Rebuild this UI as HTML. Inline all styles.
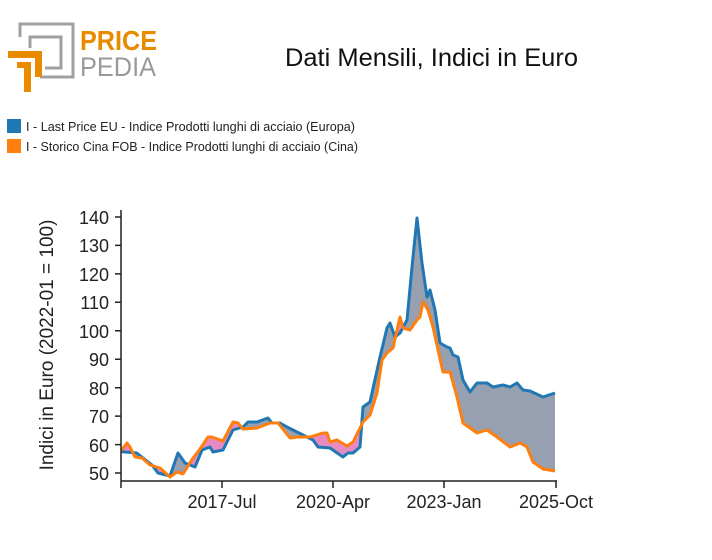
<!DOCTYPE html>
<html><head><meta charset="utf-8"><style>
body{margin:0;background:#fff;width:712px;height:555px;overflow:hidden;font-family:"Liberation Sans",sans-serif}
</style></head><body>
<svg width="712" height="555" viewBox="0 0 712 555" xmlns="http://www.w3.org/2000/svg" font-family="Liberation Sans, sans-serif">
<defs>
<clipPath id="aboveBlue"><polygon points="121.7,451.7 136.7,453 143,458 152,465 158,473 170,476 178,453 185,463 195,467 202,450 210,447 213,452 223,450 233,430 243,427 248,422 257,422 268,418 272,423 280,423 287,427 297,432 303,435 313,440 318,447 330,448 343,457 348,453 353,453 360,447 363,407 370,402 380,357 387,328 390,323 395,337 400,333 407,320 412,267 417,218 422,263 427,297 430,290 435,310 440,343 447,347 450,348 453,355 458,357 463,380 470,392 477,383 487,383 493,387 503,385 510,387 517,383 523,390 530,391 543,397 555,393 555,0 121.7,0"/></clipPath>
<clipPath id="belowBlue"><polygon points="121.7,451.7 136.7,453 143,458 152,465 158,473 170,476 178,453 185,463 195,467 202,450 210,447 213,452 223,450 233,430 243,427 248,422 257,422 268,418 272,423 280,423 287,427 297,432 303,435 313,440 318,447 330,448 343,457 348,453 353,453 360,447 363,407 370,402 380,357 387,328 390,323 395,337 400,333 407,320 412,267 417,218 422,263 427,297 430,290 435,310 440,343 447,347 450,348 453,355 458,357 463,380 470,392 477,383 487,383 493,387 503,385 510,387 517,383 523,390 530,391 543,397 555,393 555,555 121.7,555"/></clipPath>
</defs>
<!-- logo -->
<polyline points="20,37 20,24 73,24 73,77 40,77" fill="none" stroke="#a0a0a0" stroke-width="3"/>
<polyline points="30,48 30,37 61,37 61,68 45,68" fill="none" stroke="#a0a0a0" stroke-width="3"/>
<path d="M8,51 H42 V77 H35 V58 H8 Z" fill="#e88b00"/>
<path d="M17,62 H31 V92 H24 V68 H17 Z" fill="#e88b00"/>
<text x="80" y="50" font-size="28" font-weight="bold" fill="#e88b00" textLength="77" lengthAdjust="spacingAndGlyphs">PRICE</text>
<text x="80" y="76" font-size="27" fill="#9a9a9a" textLength="76" lengthAdjust="spacingAndGlyphs">PEDIA</text>
<text x="285" y="66" font-size="25" fill="#111" textLength="293" lengthAdjust="spacingAndGlyphs">Dati Mensili, Indici in Euro</text>
<!-- legend -->
<rect x="7" y="119" width="14" height="14" fill="#1f77b4"/>
<text x="26" y="131" font-size="12.5" fill="#222" textLength="329" lengthAdjust="spacingAndGlyphs">I - Last Price EU - Indice Prodotti lunghi di acciaio (Europa)</text>
<rect x="7" y="139" width="14" height="14" fill="#ff7f0e"/>
<text x="26" y="151" font-size="12.5" fill="#222" textLength="332" lengthAdjust="spacingAndGlyphs">I - Storico Cina FOB - Indice Prodotti lunghi di acciaio (Cina)</text>
<!-- fills -->
<g id="between">
<polygon clip-path="url(#belowBlue)" fill="#97a0b0" points="121.7,451.7 136.7,453 143,458 152,465 158,473 170,476 178,453 185,463 195,467 202,450 210,447 213,452 223,450 233,430 243,427 248,422 257,422 268,418 272,423 280,423 287,427 297,432 303,435 313,440 318,447 330,448 343,457 348,453 353,453 360,447 363,407 370,402 380,357 387,328 390,323 395,337 400,333 407,320 412,267 417,218 422,263 427,297 430,290 435,310 440,343 447,347 450,348 453,355 458,357 463,380 470,392 477,383 487,383 493,387 503,385 510,387 517,383 523,390 530,391 543,397 555,393 555,471 543,469 533,462 527,447 520,443 510,447 497,437 487,430 477,433 470,428 463,423 457,397 450,372 443,372 438,350 433,327 428,310 423,302 420,317 417,320 410,330 403,328 400,317 393,348 387,353 382,360 377,393 370,415 363,422 353,442 347,446 337,440 330,442 327,433 323,433 310,437 297,437 290,438 278,423 270,423 257,428 243,429 238,423 233,422 223,441 212,437 208,437 200,449 193,458 183,474 177,472 170,477 160,468 150,465 142,458 135,457 130,447 127,443 121.7,450"/>
<polygon clip-path="url(#aboveBlue)" fill="#e78ac3" points="121.7,451.7 136.7,453 143,458 152,465 158,473 170,476 178,453 185,463 195,467 202,450 210,447 213,452 223,450 233,430 243,427 248,422 257,422 268,418 272,423 280,423 287,427 297,432 303,435 313,440 318,447 330,448 343,457 348,453 353,453 360,447 363,407 370,402 380,357 387,328 390,323 395,337 400,333 407,320 412,267 417,218 422,263 427,297 430,290 435,310 440,343 447,347 450,348 453,355 458,357 463,380 470,392 477,383 487,383 493,387 503,385 510,387 517,383 523,390 530,391 543,397 555,393 555,471 543,469 533,462 527,447 520,443 510,447 497,437 487,430 477,433 470,428 463,423 457,397 450,372 443,372 438,350 433,327 428,310 423,302 420,317 417,320 410,330 403,328 400,317 393,348 387,353 382,360 377,393 370,415 363,422 353,442 347,446 337,440 330,442 327,433 323,433 310,437 297,437 290,438 278,423 270,423 257,428 243,429 238,423 233,422 223,441 212,437 208,437 200,449 193,458 183,474 177,472 170,477 160,468 150,465 142,458 135,457 130,447 127,443 121.7,450"/>
</g>
<polyline fill="none" stroke="#1f77b4" stroke-width="3" stroke-linejoin="round" points="121.7,451.7 136.7,453 143,458 152,465 158,473 170,476 178,453 185,463 195,467 202,450 210,447 213,452 223,450 233,430 243,427 248,422 257,422 268,418 272,423 280,423 287,427 297,432 303,435 313,440 318,447 330,448 343,457 348,453 353,453 360,447 363,407 370,402 380,357 387,328 390,323 395,337 400,333 407,320 412,267 417,218 422,263 427,297 430,290 435,310 440,343 447,347 450,348 453,355 458,357 463,380 470,392 477,383 487,383 493,387 503,385 510,387 517,383 523,390 530,391 543,397 555,393"/>
<polyline fill="none" stroke="#ff7f0e" stroke-width="3" stroke-linejoin="round" points="121.7,450 127,443 130,447 135,457 142,458 150,465 160,468 170,477 177,472 183,474 193,458 200,449 208,437 212,437 223,441 233,422 238,423 243,429 257,428 270,423 278,423 290,438 297,437 310,437 323,433 327,433 330,442 337,440 347,446 353,442 363,422 370,415 377,393 382,360 387,353 393,348 400,317 403,328 410,330 417,320 420,317 423,302 428,310 433,327 438,350 443,372 450,372 457,397 463,423 470,428 477,433 487,430 497,437 510,447 520,443 527,447 533,462 543,469 555,471"/>
<!-- axes -->
<g stroke="#222" stroke-width="1.5" fill="none">
<line x1="121" y1="210" x2="121" y2="481"/>
<line x1="121" y1="481" x2="557" y2="481"/>
<path d="M115,217H121 M115,245.4H121 M115,273.9H121 M115,302.3H121 M115,330.8H121 M115,359.2H121 M115,387.7H121 M115,416.1H121 M115,444.6H121 M115,473H121"/>
<path d="M121,481V488 M222,481V488 M333,481V488 M444,481V488 M556,481V488"/>
</g>
<g font-size="18" fill="#222" text-anchor="end">
<text x="109" y="224">140</text><text x="109" y="252">130</text><text x="109" y="281">120</text><text x="109" y="309">110</text><text x="109" y="338">100</text><text x="109" y="366">90</text><text x="109" y="395">80</text><text x="109" y="423">70</text><text x="109" y="452">60</text><text x="109" y="480">50</text>
</g>
<g font-size="18" fill="#222" text-anchor="middle">
<text x="222" y="508">2017-Jul</text><text x="333" y="508">2020-Apr</text><text x="444" y="508">2023-Jan</text><text x="556" y="508">2025-Oct</text>
</g>
<text transform="translate(53,345) rotate(-90)" font-size="19" fill="#222" text-anchor="middle">Indici in Euro (2022-01 = 100)</text>
</svg>
</body></html>
